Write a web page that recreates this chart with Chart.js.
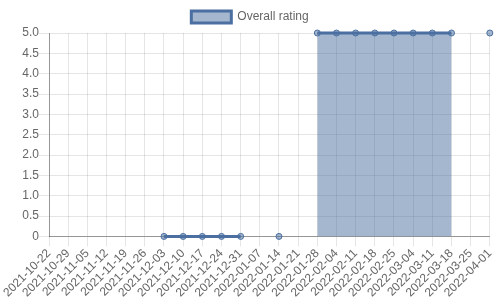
<!DOCTYPE html>
<html>
<head>
<meta charset="utf-8">
<script src="https://cdn.jsdelivr.net/npm/chart.js@4"></script>
<style>
  html, body { margin: 0; padding: 0; background: #fff; }
  #wrap { width: 500px; height: 300px; }
</style>
</head>
<body>
<div id="wrap"><canvas id="myRating"></canvas></div>
<script>
const labels = [
  '2021-10-22', '2021-10-29', '2021-11-05', '2021-11-12', '2021-11-19', '2021-11-26',
  '2021-12-03', '2021-12-10', '2021-12-17', '2021-12-24', '2021-12-31', '2022-01-07',
  '2022-01-14', '2022-01-21', '2022-01-28', '2022-02-04', '2022-02-11', '2022-02-18',
  '2022-02-25', '2022-03-04', '2022-03-11', '2022-03-18', '2022-03-25', '2022-04-01'
];
const ratings = [
  null, null, null, null, null, null,
  0, 0, 0, 0, 0, null,
  0, null, 5, 5, 5, 5,
  5, 5, 5, 5, null, 5
];

document.addEventListener('DOMContentLoaded', () => {
  var ctx = document.getElementById('myRating');
  Chart.defaults.font.family = '"Liberation Sans", Arial, sans-serif';
  Chart.defaults.font.size = 12;
  Chart.defaults.color = '#666';

  new Chart(ctx, {
    type: 'line',
    data: {
      labels: labels,
      datasets: [
        {
          label: 'Overall rating',
          data: ratings,
          borderColor: 'rgb(74, 111, 160)',
          backgroundColor: 'rgba(74, 111, 160, 0.5)',
          pointBackgroundColor: 'rgba(74, 111, 160, 0.5)',
          pointBorderColor: 'rgb(74, 111, 160)',
          pointBorderWidth: 1,
          pointRadius: 3,
          borderWidth: 3,
          fill: 'origin',
          tension: 0,
          clip: false,
        },
      ],
    },
    options: {
      responsive: true,
      maintainAspectRatio: false,
      animation: false,
      layout: { padding: { left: 10, right: 10, top: 1 } },
      plugins: {
        legend: {
          labels: { boxWidth: 40, boxHeight: 12 },
        },
      },
      scales: {
        x: {
          grid: { color: 'rgba(0,0,0,0.1)', tickLength: 10 },
          border: { color: 'rgba(0,0,0,0.35)' },
          ticks: { maxRotation: 45, minRotation: 45, autoSkip: false, padding: 0 },
        },
        y: {
          min: 0,
          max: 5,
          grid: { color: 'rgba(0,0,0,0.1)', tickLength: 10 },
          border: { color: 'rgba(0,0,0,0.35)' },
          afterFit: scale => { scale.width = 39; },
          ticks: {
            stepSize: 0.5,
            padding: 0,
            callback: v => (v === 0 ? '0' : v.toFixed(1)),
          },
        },
      },
    },
  });
});
</script>
</body>
</html>
